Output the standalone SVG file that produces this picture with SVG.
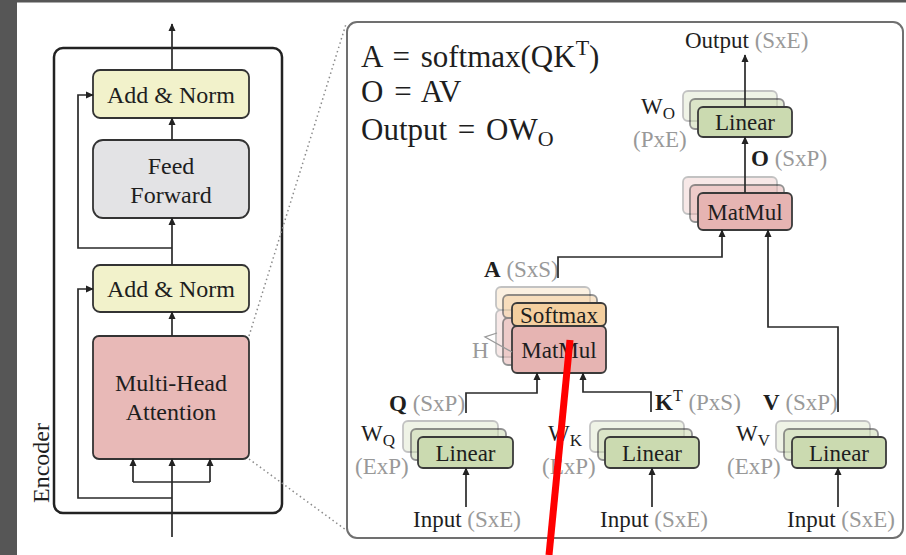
<svg xmlns="http://www.w3.org/2000/svg" width="906" height="555" viewBox="0 0 906 555">
<defs>
<marker id="ah" viewBox="0 0 10 10" refX="9" refY="5" markerWidth="8" markerHeight="8" markerUnits="userSpaceOnUse" orient="auto"><path d="M0,0.5 L10,5 L0,9.5 z" fill="#222"/></marker>
<style>
text{font-family:"Liberation Serif","Times New Roman",serif;fill:#1e1e1e}
.big{font-size:24px}
.lab{font-size:23px}
.g{fill:#999}
.b{font-weight:bold}
.fml{font-size:31px;word-spacing:3px}
.w{font-size:23px}
.conn{fill:none;stroke:#2a2a2a;stroke-width:1.7}
.enc{fill:none;stroke:#222;stroke-width:2.5}
.an{fill:#f2f2cb;stroke:#333;stroke-width:1.8}
.ff{fill:#e3e3e5;stroke:#333;stroke-width:1.8}
.mha{fill:#e8b9b7;stroke:#333;stroke-width:1.8}
.lin{fill:#cbdab0;stroke:#3a3a3a;stroke-width:1.8}
.mm{fill:#e6b4b2;stroke:#3a3a3a;stroke-width:1.8}
.sm{fill:#f4cf9f;stroke:#3a3a3a;stroke-width:1.8}
.l1{opacity:0.55}
.l2{opacity:0.3}
.dot{fill:none;stroke:#8a8a8a;stroke-width:1.5;stroke-dasharray:1.5 3}
</style>
</defs>
<rect x="0" y="0" width="906" height="555" fill="#ffffff"/>
<rect x="0" y="0" width="17" height="555" fill="#565656"/>
<rect x="0" y="0" width="906" height="2.5" fill="#565656"/>

<!-- Encoder frame -->
<g id="encoder">
<rect class="enc" x="54" y="48" width="228" height="465" rx="9"/>
<text class="big" transform="translate(49,463) rotate(-90)" text-anchor="middle">Encoder</text>
</g>
<g id="addnorm2">
<rect class="an" x="93" y="70" width="156" height="48" rx="7"/>
<text class="big" x="171" y="103" text-anchor="middle">Add &amp; Norm</text>
</g>
<g id="feedforward">
<rect class="ff" x="93" y="140" width="156" height="78" rx="10"/>
<text class="big" x="171" y="174" text-anchor="middle">Feed</text>
<text class="big" x="171" y="203" text-anchor="middle">Forward</text>
</g>
<g id="addnorm1">
<rect class="an" x="93" y="265" width="156" height="47" rx="7"/>
<text class="big" x="171" y="297" text-anchor="middle">Add &amp; Norm</text>
</g>
<g id="mha">
<rect class="mha" x="93" y="336" width="156" height="123" rx="6"/>
<text class="big" x="171" y="391" text-anchor="middle">Multi-Head</text>
<text class="big" x="171" y="420" text-anchor="middle">Attention</text>
</g>

<!-- zoom lines -->
<g id="zoomlines">
<path class="dot" d="M249,336 L346,24"/>
<path class="dot" d="M249,459 L346,530"/>
</g>

<!-- Right panel -->
<g id="panel">
<rect x="347" y="22" width="556" height="516" rx="10" fill="none" stroke="#707070" stroke-width="2"/>
<text class="fml" x="361" y="67">A = softmax(QK<tspan font-size="22" dy="-12">T</tspan><tspan dy="12">)</tspan></text>
<text class="fml" x="361" y="102">O = AV</text>
<text class="fml" x="361" y="140">Output = OW<tspan font-size="22" dy="6">O</tspan></text>
</g>

<!-- W_O linear -->
<g id="linear_o">
<rect class="lin l2" x="683" y="91" width="94" height="30" rx="5"/>
<rect class="lin l1" x="690" y="99" width="94" height="30" rx="5"/>
<rect class="lin" x="698" y="107" width="94" height="30" rx="5"/>
<text class="lab" x="745" y="130" text-anchor="middle">Linear</text>
<text class="w" x="641" y="114">W<tspan font-size="17" dy="5">O</tspan></text>
<text class="lab g" x="633" y="147">(PxE)</text>
</g>

<!-- top MatMul -->
<g id="matmul_av">
<rect class="mm l2" x="683" y="177" width="94" height="37" rx="5"/>
<rect class="mm l1" x="690" y="185" width="94" height="37" rx="5"/>
<rect class="mm" x="698" y="193" width="94" height="37" rx="5"/>
<text class="lab" x="745" y="220" text-anchor="middle">MatMul</text>
</g>

<!-- Softmax / MatMul stack -->
<g id="softmax_matmul">
<g class="l2">
<rect class="sm" x="496" y="287" width="94" height="23" rx="5"/>
<rect class="mm" x="496" y="310" width="94" height="47" rx="5"/>
</g>
<g class="l1">
<rect class="sm" x="503" y="295" width="94" height="23" rx="5"/>
<rect class="mm" x="503" y="318" width="94" height="47" rx="5"/>
</g>
<rect class="sm" x="512" y="303" width="94" height="23" rx="5"/>
<rect class="mm" x="512" y="326" width="94" height="47" rx="5"/>
<text class="lab" x="559" y="323" text-anchor="middle">Softmax</text>
<text class="lab" x="559" y="358" text-anchor="middle">MatMul</text>
<path d="M497,333 L485,337 L512,352" fill="none" stroke="#999" stroke-width="1.3"/>
<text class="lab g" x="472" y="358">H</text>
</g>

<!-- Q linear -->
<g id="linear_q">
<rect class="lin l2" x="403" y="421" width="95" height="31" rx="5"/>
<rect class="lin l1" x="411" y="429" width="95" height="31" rx="5"/>
<rect class="lin" x="418" y="437" width="95" height="31" rx="5"/>
<text class="lab" x="465.5" y="461" text-anchor="middle">Linear</text>
<text class="w" x="361" y="441">W<tspan font-size="17" dy="5">Q</tspan></text>
<text class="lab g" x="355" y="474">(ExP)</text>
</g>
<!-- K linear -->
<g id="linear_k">
<rect class="lin l2" x="590" y="421" width="94" height="31" rx="5"/>
<rect class="lin l1" x="598" y="429" width="94" height="31" rx="5"/>
<rect class="lin" x="605" y="437" width="94" height="31" rx="5"/>
<text class="lab" x="652" y="461" text-anchor="middle">Linear</text>
<text class="w" x="548" y="441">W<tspan font-size="17" dy="5">K</tspan></text>
<text class="lab g" x="542" y="474">(ExP)</text>
</g>
<!-- V linear -->
<g id="linear_v">
<rect class="lin l2" x="776" y="421" width="94" height="31" rx="5"/>
<rect class="lin l1" x="784" y="429" width="94" height="31" rx="5"/>
<rect class="lin" x="792" y="437" width="94" height="31" rx="5"/>
<text class="lab" x="839" y="461" text-anchor="middle">Linear</text>
<text class="w" x="736" y="441">W<tspan font-size="17" dy="5">V</tspan></text>
<text class="lab g" x="727" y="474">(ExP)</text>
</g>

<!-- labels -->
<g id="labels">
<text class="lab" x="685" y="48">Output <tspan class="g">(SxE)</tspan></text>
<text class="lab" x="751" y="166"><tspan class="b">O</tspan> <tspan class="g">(SxP)</tspan></text>
<text class="lab" x="484" y="277"><tspan class="b">A</tspan> <tspan class="g">(SxS)</tspan></text>
<text class="lab" x="389" y="411"><tspan class="b">Q</tspan> <tspan class="g">(SxP)</tspan></text>
<text class="lab" x="655" y="410"><tspan class="b">K</tspan><tspan font-size="16" dy="-9">T</tspan><tspan dy="9"> </tspan><tspan class="g">(PxS)</tspan></text>
<text class="lab" x="763" y="410"><tspan class="b">V</tspan> <tspan class="g">(SxP)</tspan></text>
<text class="lab" x="413" y="527">Input <tspan class="g">(SxE)</tspan></text>
<text class="lab" x="600" y="527">Input <tspan class="g">(SxE)</tspan></text>
<text class="lab" x="787" y="527">Input <tspan class="g">(SxE)</tspan></text>
</g>

<!-- connectors -->
<g id="connectors">
<path class="conn" d="M172,70 V24" marker-end="url(#ah)"/>
<path class="conn" d="M172,140 V118" marker-end="url(#ah)"/>
<path class="conn" d="M172,265 V218" marker-end="url(#ah)"/>
<path class="conn" d="M172,248 H78 V95 H93" marker-end="url(#ah)"/>
<path class="conn" d="M172,336 V312" marker-end="url(#ah)"/>
<path class="conn" d="M172,537 V459" marker-end="url(#ah)"/>
<path class="conn" d="M133,482 H210"/>
<path class="conn" d="M133,482 V459" marker-end="url(#ah)"/>
<path class="conn" d="M210,482 V459" marker-end="url(#ah)"/>
<path class="conn" d="M172,498 H78 V289 H93" marker-end="url(#ah)"/>

<path class="conn" d="M745,107 V55" marker-end="url(#ah)"/>
<path class="conn" d="M745,193 V137" marker-end="url(#ah)"/>
<path class="conn" d="M558,278 V257 H722 V230" marker-end="url(#ah)"/>
<path class="conn" d="M838,412 V327 H768 V230" marker-end="url(#ah)"/>
<path class="conn" d="M466,413 V393 H537 V373" marker-end="url(#ah)"/>
<path class="conn" d="M651,412 V392 H583 V373" marker-end="url(#ah)"/>
<path class="conn" d="M466,507 V468" marker-end="url(#ah)"/>
<path class="conn" d="M652,507 V468" marker-end="url(#ah)"/>
<path class="conn" d="M838,507 V468" marker-end="url(#ah)"/>
</g>

<line x1="570" y1="340" x2="549" y2="555" stroke="#ff0000" stroke-width="7"/>
</svg>
